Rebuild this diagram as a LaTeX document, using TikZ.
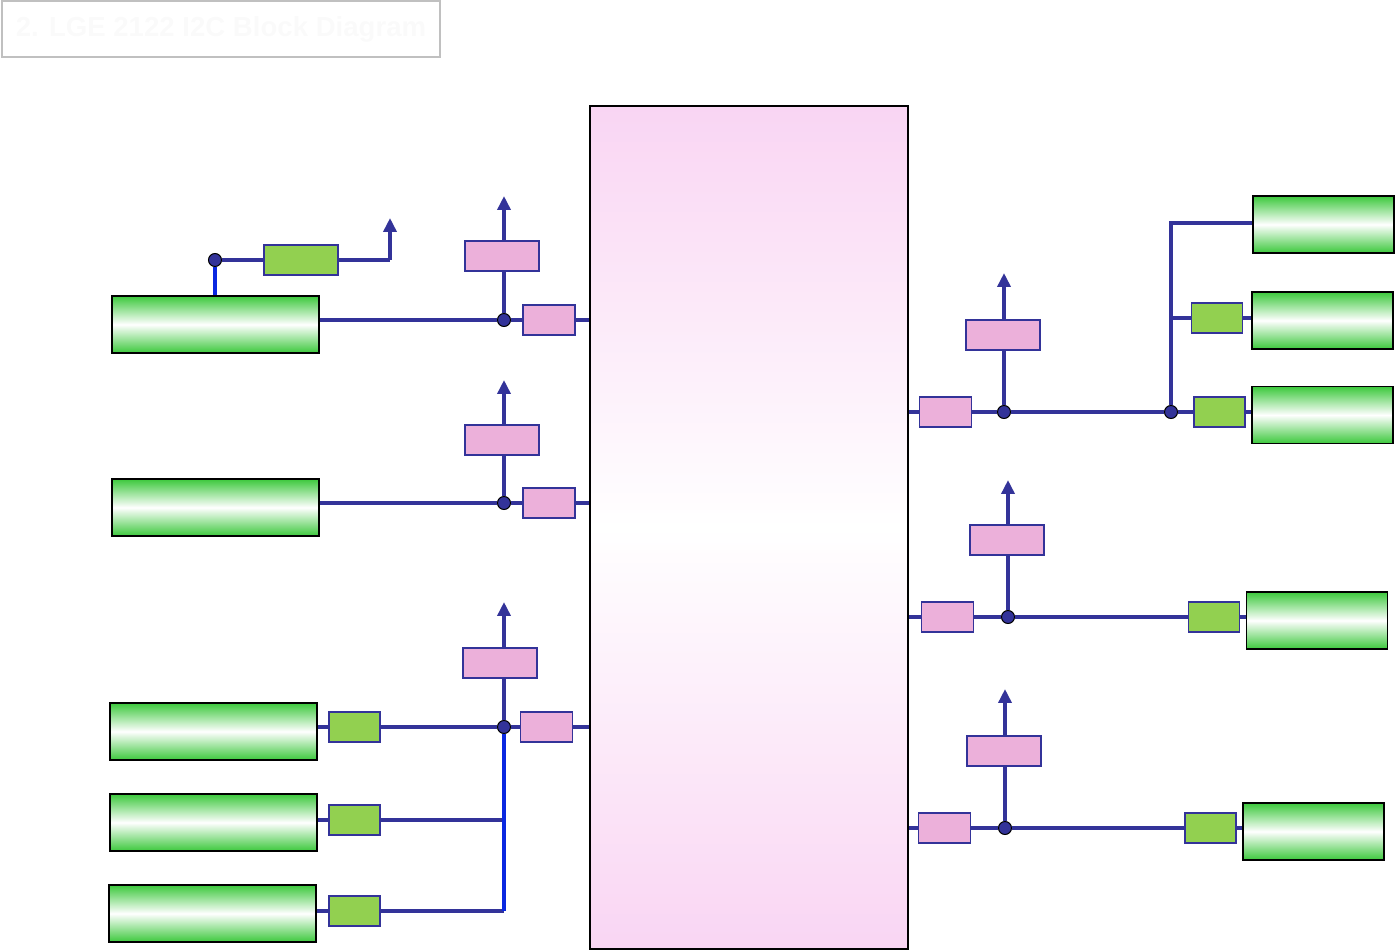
\documentclass[tikz,border=0pt]{standalone}
\usepackage{fontspec}
\setmainfont{Liberation Sans}
\usepackage{xcolor}
\usetikzlibrary{arrows.meta,positioning,calc}

\definecolor{busblue}{RGB}{51,51,153}
\definecolor{tapblue}{RGB}{10,40,225}
\definecolor{bufgreen}{RGB}{146,208,80}
\definecolor{respink}{RGB}{236,176,218}
\definecolor{icpink}{RGB}{249,213,243}
\definecolor{tubeg}{RGB}{60,200,60}
\definecolor{titlegray}{RGB}{192,192,192}

\begin{document}
\begin{tikzpicture}[
    x=0.02cm, y=-0.02cm,
    ic/.style={draw=black, line width=1.1pt, top color=icpink, bottom color=icpink, middle color=white, minimum width=6.36cm, minimum height=16.86cm, inner sep=0pt},
    tube/.style={draw=black, line width=1pt, top color=tubeg, bottom color=tubeg, middle color=white, minimum width=4.14cm, minimum height=1.14cm, inner sep=0pt},
    tubeR/.style={tube, minimum width=2.82cm},
    buf/.style={draw=busblue, line width=0.8pt, fill=bufgreen, minimum width=1.02cm, minimum height=0.6cm, inner sep=0pt},
    bufwide/.style={buf, minimum width=1.48cm},
    res/.style={draw=busblue, line width=0.8pt, fill=respink, minimum width=1.04cm, minimum height=0.6cm, inner sep=0pt},
    reswide/.style={res, minimum width=1.48cm},
    junct/.style={circle, draw=black, fill=busblue, line width=0.6pt, minimum size=0.26cm, inner sep=0pt},
    bus/.style={draw=busblue, line width=2.1pt},
    up/.style={bus, -{Triangle[length=0.28cm, width=0.26cm]}},
    tap/.style={draw=tapblue, line width=2.1pt}
]
\useasboundingbox (0,0) rectangle (1396,952);

% title
\node[draw=titlegray, line width=0.9pt, minimum width=8.76cm, minimum height=1.12cm, inner sep=0pt, text=black!2, font=\fontsize{15.7}{18}\selectfont\bfseries] (title) at (221,29) {2. LGE 2122 I2C Block Diagram};

% main chip
\node[ic] (chip) at (749,527.5) {};

% left side devices
\node[tube] (devA) at (215.5,324.5) {};
\node[tube] (devB) at (215.5,507.5) {};
\node[tube] (devC) at (213.5,731.5) {};
\node[tube] (devD) at (213.5,822.5) {};
\node[tube] (devE) at (212.5,913.5) {};

% right side devices
\node[tubeR] (devF) at (1323.5,224.5) {};
\node[tubeR] (devG) at (1322.5,320.5) {};
\node[tubeR] (devH) at (1322.5,415) {};
\node[tubeR] (devI) at (1317,620.5) {};
\node[tubeR] (devJ) at (1313.5,831.5) {};

% series buffers
\node[bufwide] (bufT) at (301,260) {};
\node[buf] (bufC) at (354.5,727) {};
\node[buf] (bufD) at (354.5,820) {};
\node[buf] (bufE) at (354.5,911) {};
\node[buf] (bufG) at (1217,318) {};
\node[buf] (bufH) at (1219.5,412) {};
\node[buf] (bufI) at (1214,617) {};
\node[buf] (bufJ) at (1210.5,828) {};

% pull-ups and series resistors
\node[reswide] (puA) at (502,256) {};
\node[res] (rsA) at (549,320) {};
\node[reswide] (puB) at (502,440) {};
\node[res] (rsB) at (549,503) {};
\node[reswide] (puC) at (500,663) {};
\node[res] (rsC) at (546.5,727) {};
\node[reswide] (puF) at (1003,335) {};
\node[res] (rsF) at (945.5,412) {};
\node[reswide] (puI) at (1007,540) {};
\node[res] (rsI) at (947.5,617) {};
\node[reswide] (puJ) at (1004,751) {};
\node[res] (rsJ) at (944.5,828) {};

% junctions
\node[junct] (jT) at (215,260) {};
\node[junct] (jA) at (504,320) {};
\node[junct] (jB) at (504,503) {};
\node[junct] (jC) at (504,727) {};
\node[junct] (jF) at (1004,412) {};
\node[junct] (jG) at (1171,412) {};
\node[junct] (jI) at (1008,617) {};
\node[junct] (jJ) at (1005,828) {};

% supply ends
\coordinate (vT) at (390,218);
\coordinate (vA) at (504,196);
\coordinate (vB) at (504,380);
\coordinate (vC) at (504,602);
\coordinate (vF) at (1004,273);
\coordinate (vI) at (1008,480);
\coordinate (vJ) at (1005,689);
\coordinate (jE) at (504,911);

% left bus A
\draw[bus] (jA -| devA.east) -- (jA) -- (rsA);
\draw[bus] (rsA.east) -- (rsA.east -| chip.west);
\draw[bus] (jA) -- (jA |- puA.south);
\draw[up] (jA |- puA.north) -- (vA);
\draw[tap] (jT) -- (jT |- devA.north);
\draw[bus] (jT) -- (bufT);
\draw[bus] (bufT.east) -- (bufT.east -| vT);
\draw[up] (bufT.east -| vT) -- (vT);

% left bus B
\draw[bus] (jB -| devB.east) -- (jB) -- (rsB);
\draw[bus] (rsB.east) -- (rsB.east -| chip.west);
\draw[bus] (jB) -- (jB |- puB.south);
\draw[up] (jB |- puB.north) -- (vB);

% left bus C
\draw[bus] (bufC.west -| devC.east) -- (bufC.west);
\draw[bus] (bufC.east) -- (jC) -- (rsC);
\draw[bus] (rsC.east) -- (rsC.east -| chip.west);
\draw[bus] (jC) -- (jC |- puC.south);
\draw[up] (jC |- puC.north) -- (vC);
\draw[bus] (bufD.west -| devD.east) -- (bufD.west);
\draw[bus] (bufE.west -| devE.east) -- (bufE.west);
\draw[bus] (bufD.east) -- (bufD.east -| jE);
\draw[bus] (bufE.east) -- (jE);
\draw[tap] (jC) -- (jE);

% right bus F
\draw[bus] (rsF.west -| chip.east) -- (rsF.west);
\draw[bus] (rsF.east) -- (jF) -- (jG) -- (bufH);
\draw[bus] (bufH.east) -- (bufH.east -| devH.west);
\draw[bus] (jF) -- (jF |- puF.south);
\draw[up] (jF |- puF.north) -- (vF);
\draw[bus] (jG) -- (jG |- 0,223) -- (devF.west |- 0,223);
\draw[bus] (jG |- bufG.west) -- (bufG.west);
\draw[bus] (bufG.east) -- (bufG.east -| devG.west);

% right bus I
\draw[bus] (rsI.west -| chip.east) -- (rsI.west);
\draw[bus] (rsI.east) -- (jI) -- (bufI);
\draw[bus] (bufI.east) -- (bufI.east -| devI.west);
\draw[bus] (jI) -- (jI |- puI.south);
\draw[up] (jI |- puI.north) -- (vI);

% right bus J
\draw[bus] (rsJ.west -| chip.east) -- (rsJ.west);
\draw[bus] (rsJ.east) -- (jJ) -- (bufJ);
\draw[bus] (bufJ.east) -- (bufJ.east -| devJ.west);
\draw[bus] (jJ) -- (jJ |- puJ.south);
\draw[up] (jJ |- puJ.north) -- (vJ);
\end{tikzpicture}
\end{document}
